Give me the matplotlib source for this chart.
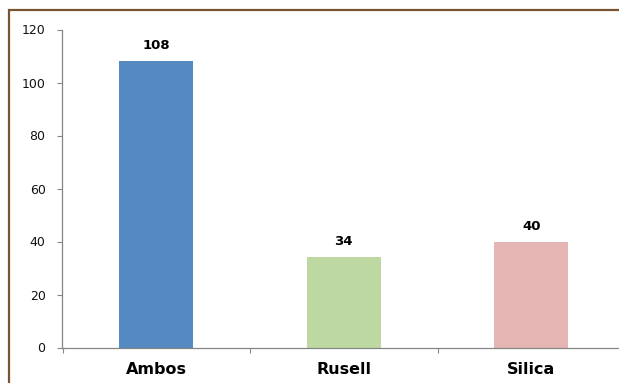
import matplotlib
matplotlib.use("Agg")
import matplotlib.pyplot as plt
from matplotlib.patches import Rectangle

categories = ["Ambos", "Rusell", "Silica"]
values = [108, 34, 40]
bar_colors = ["#5589c1", "#bdd8a1", "#e5b5b3"]
y_ticks = [0, 20, 40, 60, 80, 100, 120]

fig = plt.figure(figsize=(6.19, 3.83), dpi=100)
fig.patch.set_facecolor("white")

# chart-area frame (runs off the right and bottom edges)
frame = Rectangle((8.5 / 619, -0.05), 1.1, (383 - 10.5) / 383 + 0.05,
                  transform=fig.transFigure, fill=False,
                  edgecolor="#7a5431", linewidth=1.6, zorder=0)
fig.add_artist(frame)

ax = fig.add_axes([62.5 / 619, 35.5 / 383, 562.5 / 619, 318 / 383])
ax.set_facecolor("none")

x = list(range(len(categories)))
ax.bar(x, values, width=0.395, color=bar_colors, zorder=2)

for xi, v in zip(x, values):
    ax.annotate(str(v), (xi, v), xytext=(0, 8.6), textcoords="offset points",
                ha="center", va="baseline", fontsize=9.5, fontweight="bold",
                color="black")

ax.set_xlim(-0.5, 2.5)
ax.set_ylim(0, 120)
ax.set_yticks(y_ticks)
ax.set_yticklabels([str(t) for t in y_ticks])

ax.set_xticks(x)
ax.set_xticklabels(categories, fontsize=11.5, fontweight="bold")
ax.set_xticks([-0.5, 0.5, 1.5, 2.5], minor=True)
ax.tick_params(axis="x", which="major", length=0, pad=10.5, colors="black")
ax.tick_params(axis="x", which="minor", length=3.6, width=0.8,
               color="#868686", direction="out")
ax.tick_params(axis="y", length=3.6, width=0.8, color="#868686",
               direction="out", pad=8.6, labelsize=9, labelcolor="#111111")

for side in ("top", "right"):
    ax.spines[side].set_visible(False)
for side in ("left", "bottom"):
    ax.spines[side].set_color("#868686")
    ax.spines[side].set_linewidth(0.9)

fig.savefig("out.png", dpi=100)
